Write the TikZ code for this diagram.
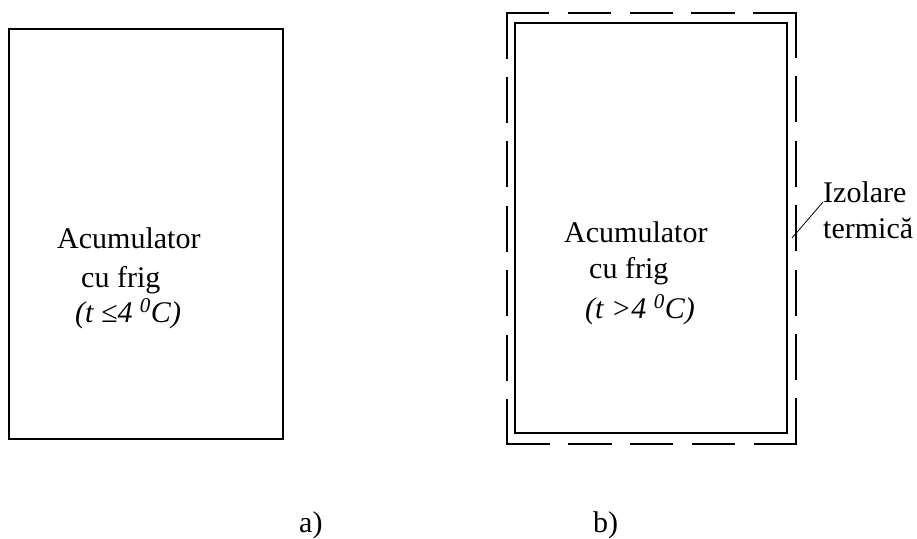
\documentclass[tikz,border=0pt]{standalone}
\usepackage{fontspec}
\setmainfont{Liberation Serif}
\begin{document}
\begin{tikzpicture}[x=1pt,y=-1pt,
  box/.style={draw,rectangle,inner sep=0pt,line width=1.5pt},
  hside/.style={line width=1.5pt,line cap=rect,dash pattern=on 41.8pt off 20pt},
  vside/.style={line width=1.5pt,line cap=rect,dash pattern=on 44.4pt off 20pt},
  txt/.style={anchor=base west,inner sep=0pt,font=\fontsize{30}{34}\selectfont},
  itx/.style={txt,font=\fontsize{30}{34}\selectfont\itshape}]
\useasboundingbox (0,0) rectangle (917,538);
% a)
\node[box,minimum width=274pt,minimum height=410pt] (boxA) at (146,234) {};
\node[txt] (a1) at (57,248) {Acumulator};
\node[txt] (a2) at (81,287) {cu frig};
\node[itx] (a3) at (75,322) {(t ≤4 \textsuperscript{0}C)};
% b)
\node[rectangle,inner sep=0pt,minimum width=289pt,minimum height=431pt] (boxBo) at (651.5,228.5) {};
\draw[hside] (boxBo.north west) -- (boxBo.north east);
\draw[vside] (boxBo.north east) -- (boxBo.south east);
\draw[hside] (boxBo.south east) -- (boxBo.south west);
\draw[vside] (boxBo.south west) -- (boxBo.north west);
\node[box,minimum width=272pt,minimum height=410pt] (boxB) at (651,228) {};
\node[txt] (b1) at (564,242) {Acumulator};
\node[txt] (b2) at (589,278) {cu frig};
\node[itx] (b3) at (585,318) {(t >4 \textsuperscript{0}C)};
\node[txt] (izo1) at (823,202) {Izolare};
\node[txt] (izo2) at (823,238) {termică};
\coordinate (lead) at (792,238);
\draw[line width=0.8pt] (lead) -- (izo1.base west);
% labels
\node[txt] (la) at (299,532) {a)};
\node[txt] (lb) at (593,532) {b)};
\end{tikzpicture}
\end{document}
